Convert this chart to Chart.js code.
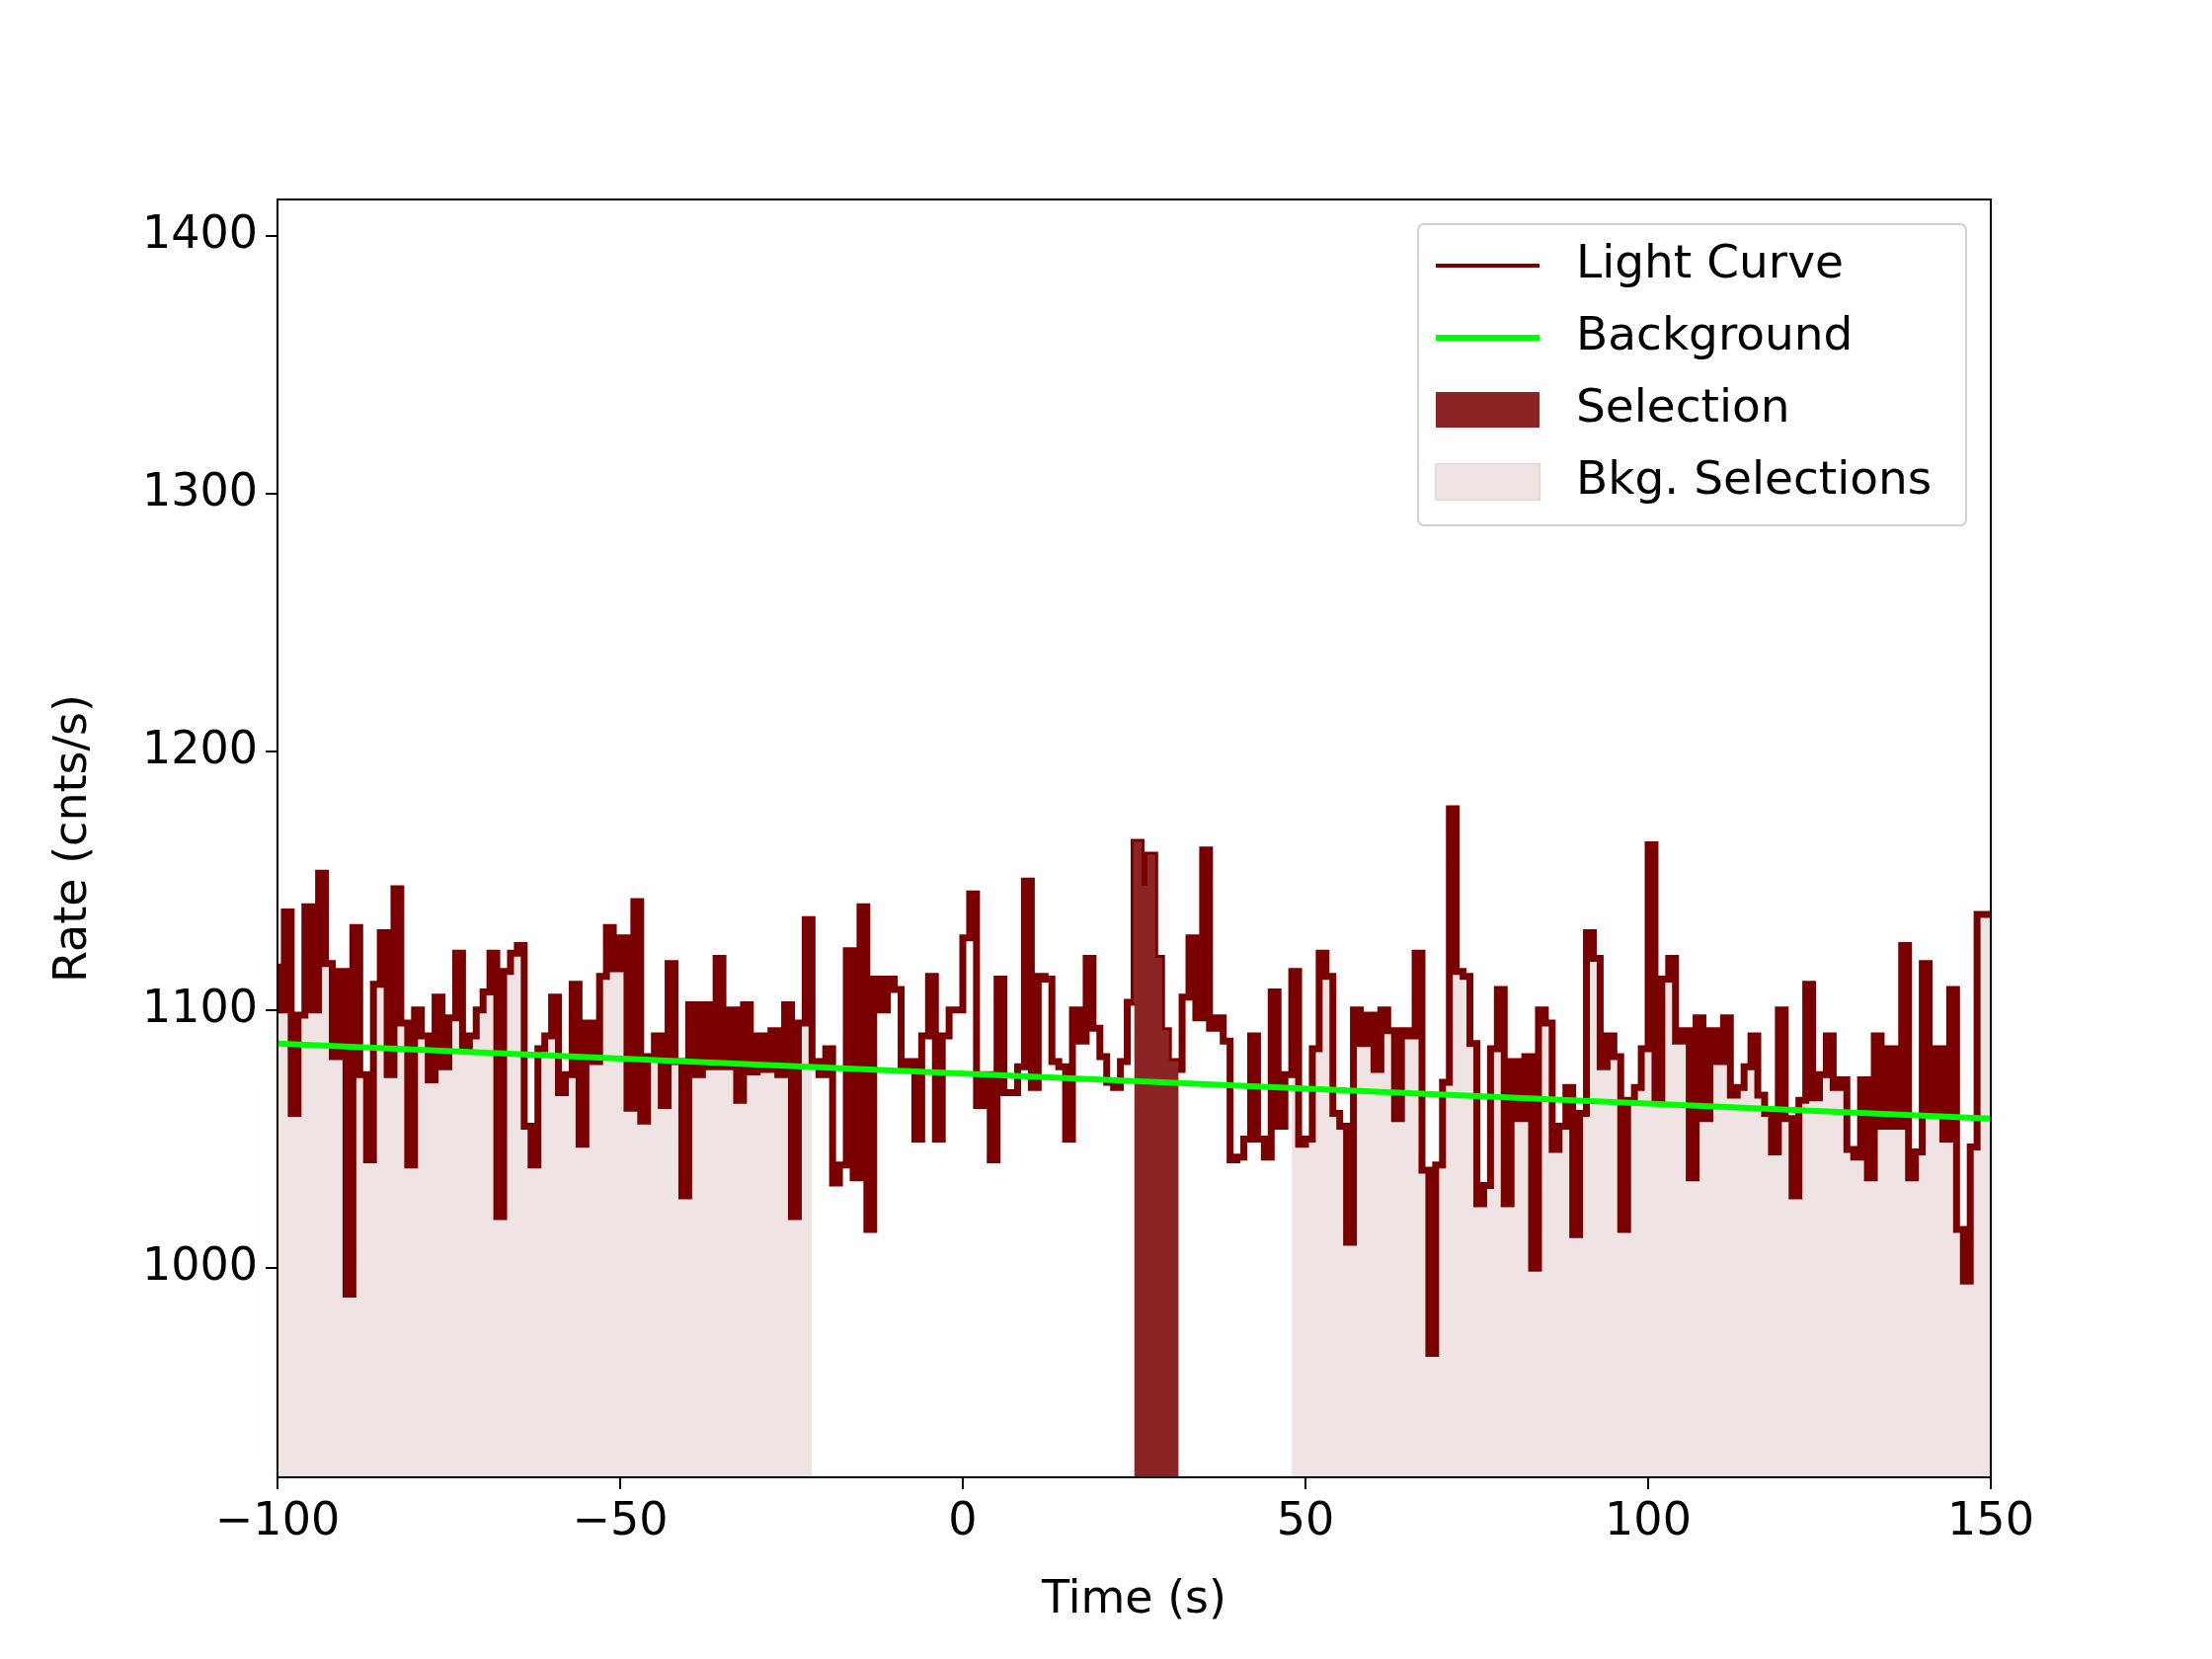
<!DOCTYPE html>
<html>
<head>
<meta charset="utf-8">
<script src="https://cdn.jsdelivr.net/npm/chart.js@4/dist/chart.umd.min.js"></script>
<style>
  html, body { margin: 0; padding: 0; background: #fff; }
  #wrap { width: 2240px; height: 1680px; }
</style>
</head>
<body>
<div id="wrap"><canvas id="lc" width="2240" height="1680"></canvas></div>
<script>
// bin start times (s), 1 s bins from -100 to 149
const binStart = -100;
const rates = [
  1118, 1100, 1138, 1060, 1098, 1140, 1100, 1153, 1118, 1082,
  1115, 990, 1132, 1075, 1042, 1110, 1130, 1075, 1147, 1095,
  1040, 1100, 1090, 1073, 1105, 1078, 1097, 1122, 1085, 1090,
  1100, 1107, 1122, 1020, 1115, 1122, 1125, 1055, 1040, 1085,
  1090, 1105, 1068, 1075, 1110, 1048, 1095, 1080, 1113, 1132,
  1116, 1128, 1062, 1142, 1057, 1082, 1090, 1063, 1118, 1080,
  1028, 1102, 1075, 1102, 1078, 1120, 1078, 1100, 1065, 1102,
  1076, 1090, 1077, 1092, 1075, 1102, 1020, 1095, 1135, 1080,
  1075, 1085, 1033, 1040, 1123, 1035, 1140, 1015, 1112, 1100,
  1112, 1108, 1078, 1080, 1050, 1090, 1113, 1050, 1090, 1100,
  1100, 1128, 1145, 1063, 1075, 1042, 1112, 1068, 1068, 1078,
  1150, 1070, 1113, 1112, 1080, 1078, 1050, 1100, 1088, 1120,
  1093, 1082, 1072, 1070, 1080, 1103, 1165, 1148, 1160, 1120,
  1092, 1080, 1077, 1105, 1128, 1097, 1162, 1093, 1097, 1088,
  1042, 1043, 1050, 1090, 1050, 1043, 1107, 1055, 1075, 1115,
  1048, 1050, 1085, 1122, 1113, 1060, 1055, 1010, 1100, 1087,
  1098, 1077, 1100, 1092, 1058, 1092, 1090, 1122, 1038, 967,
  1040, 1072, 1178, 1115, 1113, 1087, 1025, 1032, 1085, 1108,
  1025, 1080, 1058, 1082, 1000, 1100, 1095, 1046, 1055, 1070,
  1013, 1060, 1130, 1120, 1078, 1090, 1082, 1015, 1065, 1070,
  1085, 1164, 1065, 1112, 1120, 1088, 1092, 1035, 1097, 1058,
  1092, 1080, 1097, 1067, 1070, 1078, 1090, 1067, 1060, 1045,
  1100, 1058, 1028, 1065, 1110, 1066, 1075, 1090, 1070, 1073,
  1046, 1043, 1073, 1035, 1090, 1055, 1085, 1055, 1125, 1035,
  1045, 1118, 1060, 1085, 1050, 1108, 1015, 995, 1047, 1137
];
const timeRange = [-100, 150];
const bkgTimes = [-100, 150];
const bkgRates = [1087, 1058];
const selection = [25, 31.5];
const bkgSelections = [[-100, -22], [48, 150]];
const xTicks = [-100, -50, 0, 50, 100, 150];
const yTicks = [1000, 1100, 1200, 1300, 1400];

const lcPoints = rates.map((r, i) => ({ x: binStart + i, y: r }));
lcPoints.push({ x: timeRange[1], y: rates[rates.length - 1] });

function rateAt(t) {
  let i = Math.floor(t - binStart);
  i = Math.max(0, Math.min(rates.length - 1, i));
  return rates[i];
}
function segment(a, b) {
  const pts = [{ x: a, y: rateAt(a) }];
  lcPoints.forEach(p => { if (p.x > a && p.x < b) pts.push(p); });
  pts.push({ x: b, y: rateAt(b - 0.001) });
  return pts;
}

const FONT = 'DejaVu Sans';
const darkRed = '#7a0000';

const datasets = [];
bkgSelections.forEach(s => {
  datasets.push({
    data: segment(s[0], s[1]), stepped: 'after', fill: 'start',
    backgroundColor: 'rgba(240,227,228,1)', borderColor: 'rgba(232,215,217,1)',
    borderWidth: 1, pointRadius: 0, order: 5
  });
});
datasets.push({
  data: lcPoints, stepped: 'after', fill: false, borderColor: darkRed,
  borderWidth: 7, pointRadius: 0, order: 3
});
datasets.push({
  data: segment(selection[0], selection[1]), stepped: 'after', fill: 'start',
  backgroundColor: '#8b2525', borderColor: '#8b2525', borderWidth: 1,
  pointRadius: 0, order: 2
});
datasets.push({
  data: bkgTimes.map((t, i) => ({ x: t, y: bkgRates[i] })), fill: false,
  borderColor: '#00ff00', borderWidth: 6, pointRadius: 0, order: 1
});

const frame = {
  id: 'frame',
  afterDraw(chart) {
    const { ctx, chartArea: a } = chart;
    ctx.save();
    ctx.strokeStyle = '#000';
    ctx.lineWidth = 2;
    ctx.strokeRect(a.left, a.top, a.right - a.left, a.bottom - a.top);
    // axis titles
    ctx.fillStyle = '#000';
    ctx.font = '46px ' + FONT;
    ctx.textAlign = 'center';
    ctx.textBaseline = 'middle';
    ctx.fillText('Time (s)', (a.left + a.right) / 2, a.bottom + 125);
    ctx.save();
    ctx.translate(a.left - 206, (a.top + a.bottom) / 2);
    ctx.rotate(-Math.PI / 2);
    ctx.fillText('Rate (cnts/s)', 0, 0);
    ctx.restore();
    // legend
    const lx = a.right - 580, ly = a.top + 25, lw = 555, lh = 305;
    ctx.fillStyle = 'rgba(255,255,255,0.8)';
    ctx.strokeStyle = '#d0d0d0';
    ctx.lineWidth = 2;
    ctx.beginPath();
    ctx.roundRect(lx, ly, lw, lh, 6);
    ctx.fill(); ctx.stroke();
    const rows = [0, 1, 2, 3].map(i => ly + 42 + i * 73);
    const names = ['Light Curve', 'Background', 'Selection', 'Bkg. Selections'];
    const hx = lx + 18, hw = 105;
    ctx.lineWidth = 4; ctx.strokeStyle = darkRed;
    ctx.beginPath(); ctx.moveTo(hx, rows[0]); ctx.lineTo(hx + hw, rows[0]); ctx.stroke();
    ctx.lineWidth = 6; ctx.strokeStyle = '#00ff00';
    ctx.beginPath(); ctx.moveTo(hx, rows[1]); ctx.lineTo(hx + hw, rows[1]); ctx.stroke();
    ctx.fillStyle = '#8b2525'; ctx.fillRect(hx, rows[2] - 18, hw, 36);
    ctx.fillStyle = 'rgba(240,227,228,1)'; ctx.fillRect(hx, rows[3] - 18, hw, 36);
    ctx.strokeStyle = 'rgba(232,215,217,1)'; ctx.lineWidth = 2;
    ctx.strokeRect(hx, rows[3] - 18, hw, 36);
    ctx.fillStyle = '#000';
    ctx.font = '47px ' + FONT;
    ctx.textAlign = 'left';
    names.forEach((n, i) => ctx.fillText(n, hx + 142, rows[i]));
    ctx.restore();
  }
};

new Chart(document.getElementById('lc'), {
  type: 'line',
  data: { datasets },
  plugins: [frame],
  options: {
    responsive: false,
    animation: false,
    devicePixelRatio: 1,
    layout: { padding: { left: 0, right: 224, top: 202, bottom: 0 } },
    plugins: { legend: { display: false }, tooltip: { enabled: false } },
    scales: {
      x: {
        type: 'linear', min: timeRange[0], max: timeRange[1],
        afterBuildTicks: s => { s.ticks = xTicks.map(v => ({ value: v })); },
        afterFit: s => { s.height = 184; },
        grid: { drawOnChartArea: false, tickLength: 12, color: '#000', lineWidth: 2 },
        border: { display: false },
        ticks: {
          color: '#000', font: { family: FONT, size: 46 }, padding: 6, maxRotation: 0,
          callback: v => String(v).replace('-', '\u2212')
        }
      },
      y: {
        min: 919, max: 1414,
        afterBuildTicks: s => { s.ticks = yTicks.map(v => ({ value: v })); },
        afterFit: s => { s.width = 281; },
        grid: { drawOnChartArea: false, tickLength: 12, color: '#000', lineWidth: 2 },
        border: { display: false },
        ticks: { color: '#000', font: { family: FONT, size: 46 }, padding: 8, callback: v => String(v) }
      }
    }
  }
});
</script>
</body>
</html>
